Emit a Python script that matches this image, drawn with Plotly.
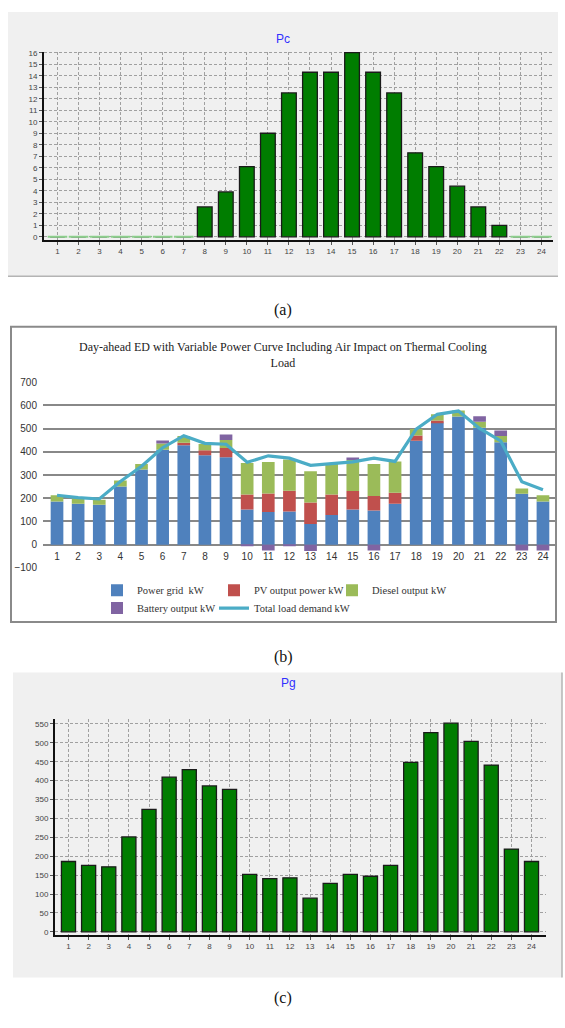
import plotly.graph_objects as go

W, H = 565, 1028

# ---- data -----------------------------------------------------------------
hours = list(range(1, 25))

# (a) Pc
pc = [0, 0, 0, 0, 0, 0, 0, 2.6, 3.9, 6.1, 9.0, 12.5,
      14.3, 14.3, 16.0, 14.3, 12.5, 7.3, 6.1, 4.4, 2.6, 1.0, 0, 0]

# (b) day-ahead economic dispatch (kW)
grid_kw = [186, 176, 172, 251, 324, 409, 429, 386, 377, 152, 141, 143,
           89, 128, 152, 147, 176, 448, 527, 552, 504, 441, 219, 186]
pv_kw = [0, 0, 0, 0, 0, 0, 10, 21, 40, 64, 80, 89,
         93, 88, 79, 63, 48, 23, 8, 0, 0, 0, 0, 0]
diesel_kw = [27, 23, 22, 26, 24, 27, 29, 27, 34, 136, 135, 135,
             134, 132, 134, 138, 135, 28, 27, 26, 26, 27, 23, 27]
battery_kw = [0, 0, 0, 0, 0, 13, 0, 0, 24, -5, -25, -5,
              -27, 0, 11, -25, 0, 0, 0, 0, 24, 24, -25, -25]
load_kw = [213, 203, 197, 272, 338, 418, 470, 437, 433, 355, 383, 373,
           342, 350, 357, 373, 359, 498, 562, 576, 501, 447, 271, 237]

# (c) Pg
pg = grid_kw

# ---- helpers ----------------------------------------------------------------
def fx(x):
    return x / W


def fy(y):
    return 1 - y / H


SANS = "Liberation Sans, Arial, sans-serif"
SERIF = "Liberation Serif, Times New Roman, serif"
GREEN = "#007d00"

fig = go.Figure()

# ---- (a) Pc bars ------------------------------------------------------------
fig.add_trace(go.Bar(
    x=hours, y=pc, width=0.7, xaxis="x", yaxis="y", showlegend=False,
    marker=dict(color=GREEN, line=dict(color="#1a1a1a", width=1.3)),
))
zero_a = [h for h, v in zip(hours, pc) if v == 0]
fig.add_trace(go.Scatter(
    x=zero_a, y=[0] * len(zero_a), mode="markers", xaxis="x", yaxis="y",
    showlegend=False,
    marker=dict(symbol="line-ew", size=14, line=dict(color="#8ccf8c", width=2)),
))

# ---- (b) stacked dispatch ---------------------------------------------------
stack = [
    ("Power grid  kW", grid_kw, "#4f81bd", "legend"),
    ("PV output power kW", pv_kw, "#c0504d", "legend2"),
    ("Diesel output kW", diesel_kw, "#9bbb59", "legend3"),
    ("Battery output kW", battery_kw, "#8064a2", "legend4"),
]
for name, vals, col, leg in stack:
    fig.add_trace(go.Bar(
        x=hours, y=vals, name=name, width=0.6, xaxis="x2", yaxis="y2",
        marker=dict(color=col, line=dict(width=0)), legend=leg,
    ))
fig.add_trace(go.Scatter(
    x=hours, y=load_kw, name="Total load demand kW", mode="lines",
    xaxis="x2", yaxis="y2", legend="legend5",
    line=dict(color="#4bacc6", width=3.2),
))

# ---- (c) Pg bars ------------------------------------------------------------
fig.add_trace(go.Bar(
    x=hours, y=pg, width=0.7, xaxis="x3", yaxis="y3", showlegend=False,
    marker=dict(color=GREEN, line=dict(color="#1a1a1a", width=1.3)),
))

# ---- axes -------------------------------------------------------------------
tick_small = dict(family=SANS, size=8, color="#444444")
dash_grid = dict(showgrid=True, gridcolor="#a0a0a0", gridwidth=1,
                 griddash="3px,2px")

fig.update_layout(
    xaxis=dict(domain=[fx(44), fx(553)], range=[0.36, 24.55], anchor="y",
               tickmode="array", tickvals=hours, tickfont=tick_small,
               showline=True, linecolor="#111111", linewidth=2,
               ticks="outside", ticklen=3, tickcolor="#555555",
               zeroline=False, **dash_grid),
    yaxis=dict(domain=[fy(237), fy(47)], range=[-0.25, 16.1], anchor="x",
               tickmode="array", tickvals=list(range(0, 17)), tickfont=tick_small,
               showline=True, linecolor="#111111", linewidth=2,
               ticks="outside", ticklen=3, tickcolor="#555555",
               zeroline=False, **dash_grid),
    xaxis2=dict(domain=[fx(43), fx(555)], range=[0.337, 24.57], anchor="free",
                position=fy(549), tickmode="array", tickvals=hours,
                tickfont=dict(family=SANS, size=10, color="#333333"),
                showgrid=False, showline=False, zeroline=False, ticks=""),
    yaxis2=dict(domain=[fy(568.4), fy(381)], range=[-100, 700], anchor="x2",
                tickmode="linear", tick0=0, dtick=100,
                tickfont=dict(family=SANS, size=10, color="#333333"),
                showgrid=True, gridcolor="#888888", gridwidth=2,
                zeroline=True, zerolinecolor="#888888", zerolinewidth=2,
                showline=False, ticks="outside", ticklen=3,
                tickcolor="rgba(0,0,0,0)"),
    xaxis3=dict(domain=[fx(55), fx(546)], range=[0.33, 24.72], anchor="y3",
                tickmode="array", tickvals=hours, tickfont=tick_small,
                showline=True, linecolor="#111111", linewidth=2,
                ticks="outside", ticklen=3, tickcolor="#555555",
                zeroline=False, **dash_grid),
    yaxis3=dict(domain=[fy(939), fy(721)], range=[-8, 563], anchor="x3",
                tickmode="array", tickvals=list(range(0, 551, 50)),
                tickfont=tick_small,
                showline=True, linecolor="#111111", linewidth=2,
                ticks="outside", ticklen=3, tickcolor="#555555",
                zeroline=False, **dash_grid),
)

# ---- legend entries for (b), one per slot -------------------------------------
leg_common = dict(orientation="h", xanchor="left", yanchor="middle",
                  bgcolor="rgba(0,0,0,0)",
                  font=dict(family=SERIF, size=10.5, color="#333333"),
                  itemclick=False, itemdoubleclick=False)
fig.update_layout(
    legend=dict(x=fx(97), y=fy(591), **leg_common),
    legend2=dict(x=fx(214), y=fy(591), **leg_common),
    legend3=dict(x=fx(332), y=fy(591), **leg_common),
    legend4=dict(x=fx(97), y=fy(609), **leg_common),
    legend5=dict(x=fx(214), y=fy(609), **leg_common),
)

# ---- panel frames -------------------------------------------------------------
shapes = [
    dict(type="rect", xref="paper", yref="paper", x0=fx(8), x1=fx(558),
         y0=fy(274), y1=fy(7), fillcolor="#f0f0f0", line=dict(width=0),
         layer="below"),
    dict(type="line", xref="paper", yref="paper", x0=fx(8), x1=fx(558),
         y0=fy(274), y1=fy(274), line=dict(color="#b4b4b4", width=1.5)),
    dict(type="rect", xref="paper", yref="paper", x0=fx(11), x1=fx(556),
         y0=fy(623), y1=fy(325), line=dict(color="#8a8a8a", width=2),
         layer="below"),
    dict(type="rect", xref="paper", yref="paper", x0=fx(13), x1=fx(562),
         y0=fy(982), y1=fy(674), fillcolor="#f0f0f0", line=dict(width=0),
         layer="below"),
    dict(type="line", xref="paper", yref="paper", x0=fx(562), x1=fx(562),
         y0=fy(982), y1=fy(674), line=dict(color="#b4b4b4", width=1.5)),
]

annotations = [
    dict(text="Pc", x=fx(283), y=fy(25), xref="paper", yref="paper",
         showarrow=False, font=dict(family=SANS, size=12, color="#3030ff")),
    dict(text="Pg", x=fx(288), y=fy(694), xref="paper", yref="paper",
         showarrow=False, font=dict(family=SANS, size=12, color="#3030ff")),
    dict(text="Day-ahead ED with Variable Power Curve Including Air Impact on Thermal Cooling<br>Load",
         x=fx(283), y=fy(353), xref="paper", yref="paper", showarrow=False,
         font=dict(family=SERIF, size=12, color="#222222")),
    dict(text="(a)", x=fx(283), y=fy(297), xref="paper", yref="paper",
         showarrow=False, font=dict(family=SERIF, size=16, color="#111111")),
    dict(text="(b)", x=fx(283), y=fy(658), xref="paper", yref="paper",
         showarrow=False, font=dict(family=SERIF, size=16, color="#111111")),
    dict(text="(c)", x=fx(283), y=fy(1014), xref="paper", yref="paper",
         showarrow=False, font=dict(family=SERIF, size=16, color="#111111")),
]

fig.update_layout(
    width=W, height=H, margin=dict(l=0, r=0, t=0, b=0),
    paper_bgcolor="white", plot_bgcolor="rgba(0,0,0,0)",
    barmode="relative", bargap=0.3,
    shapes=shapes, annotations=annotations,
)

fig.write_html("out.html")
